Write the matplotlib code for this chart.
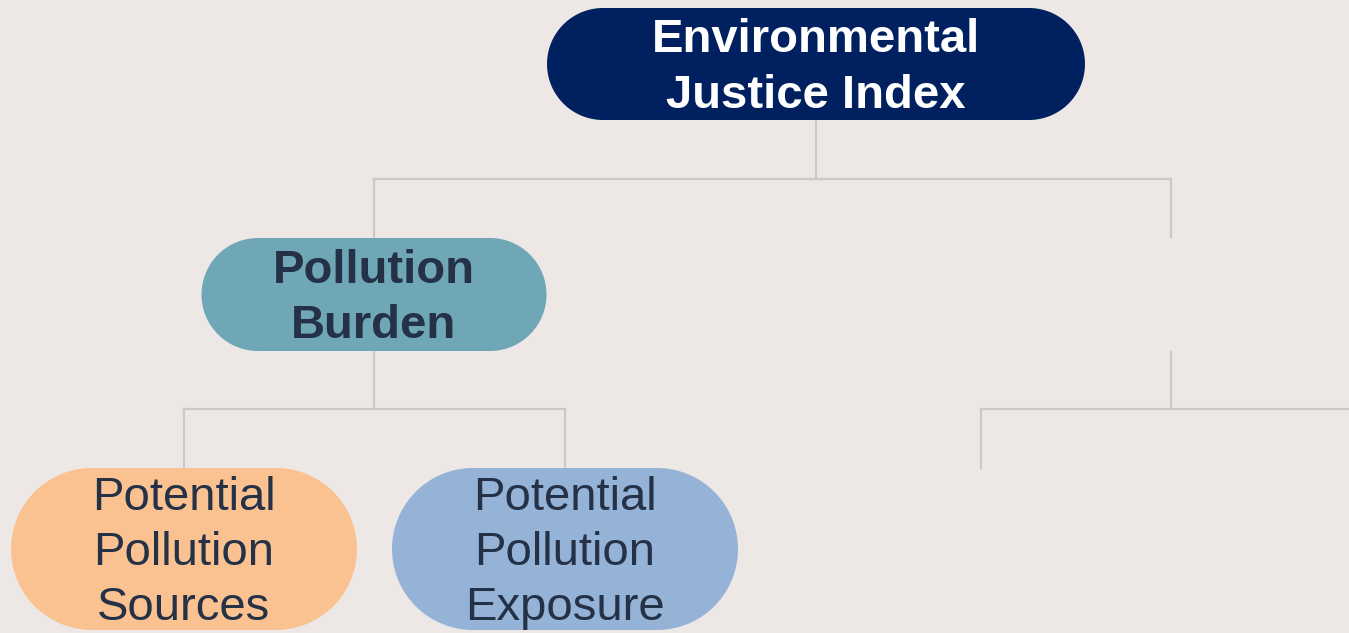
import matplotlib
matplotlib.use("Agg")
import numpy as np
import matplotlib.pyplot as plt
from matplotlib.patches import Polygon

# tree content
labels = ["Environmental\nJustice Index", "Pollution\nBurden", "",
          "Potential\nPollution\nSources", "Potential\nPollution\nExposure", ""]
parents = [None, 0, 0, 1, 1, 2]
node_colors = ["#002060", "#6FA7B7", None, "#FAC290", "#95B3D7", None]
text_colors = ["white", "#243146", None, "#243146", "#243146", None]
bold = [True, True, False, False, False, False]

# layout (pixel space), center x, top, bottom, width
cx = [816, 374, 1171, 184, 565, 981]
top = [8, 238, 237, 468, 468, 468]
bot = [120, 351, 352, 630, 630, 640]
width = [538, 345, 345, 346, 346, 346]
bar_y = {0: 179, 1: 409, 2: 409}
line_c = "#C9C9C9"


def stadium(xc, y0, y1, w):
    # pill shape with true half-circle ends
    r = (y1 - y0) / 2
    yc = (y0 + y1) / 2
    t = np.linspace(-np.pi / 2, np.pi / 2, 60)
    right = np.column_stack([xc + w / 2 - r + r * np.cos(t), yc + r * np.sin(t)])
    left = np.column_stack([xc - w / 2 + r - r * np.cos(t), yc - r * np.sin(t)])
    return np.vstack([right, left])


fig = plt.figure(figsize=(13.49, 6.33), dpi=100)
fig.patch.set_facecolor("#EDE8E5")
ax = fig.add_axes([0, 0, 1, 1])
ax.set_xlim(0, 1349)
ax.set_ylim(633, 0)
ax.set_aspect("equal")
ax.axis("off")

# connectors
for p in sorted(set(q for q in parents if q is not None)):
    kids = [i for i, q in enumerate(parents) if q == p]
    y = bar_y[p]
    ax.plot([cx[p], cx[p]], [bot[p], y], color=line_c, lw=1.6, zorder=1)
    xs = [cx[k] for k in kids] + [cx[p]]
    x0, x1 = min(xs), max(xs)
    if p == 2:
        x1 = 1349
    ax.plot([x0, x1], [y, y], color=line_c, lw=1.6, zorder=1)
    for k in kids:
        ax.plot([cx[k], cx[k]], [y, top[k]], color=line_c, lw=1.6, zorder=1)

# nodes
for i, lab in enumerate(labels):
    if node_colors[i] is None:
        continue
    shape = Polygon(stadium(cx[i], top[i], bot[i], width[i]), closed=True,
                    fc=node_colors[i], ec="none", zorder=2)
    ax.add_patch(shape)
    ax.text(cx[i], (top[i] + bot[i]) / 2 + 4, lab, ha="center", va="center",
            color=text_colors[i], fontsize=34,
            fontweight="bold" if bold[i] else "normal",
            family="Liberation Sans", linespacing=1.33, zorder=3)

fig.savefig("out.png", dpi=100, facecolor=fig.get_facecolor())
